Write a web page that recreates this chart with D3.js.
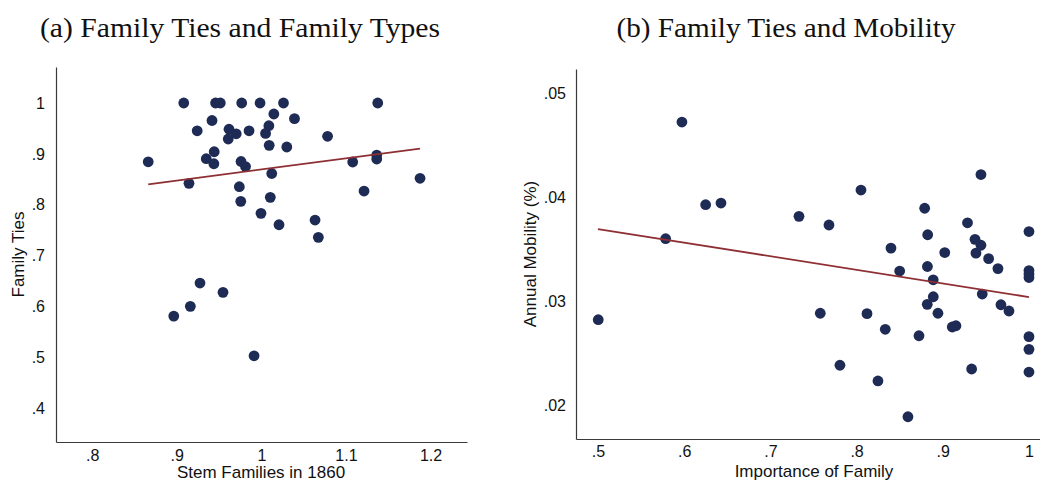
<!DOCTYPE html>
<html>
<head>
<meta charset="utf-8">
<script src="https://cdn.jsdelivr.net/npm/d3@7"></script>
<style>
  html, body { margin: 0; padding: 0; background: #fff; }
  svg { display: block; }
</style>
</head>
<body>
<svg id="chart" width="1040" height="482"></svg>
<script>
// Panel (a): stem families in 1860 vs. family ties
const stemFamilies = [
  0.9083, 0.9459, 0.9515, 0.9768, 0.9985, 1.0262, 1.1376, 1.0148, 1.0392, 0.9417,
  0.9242, 0.9618, 0.9703, 0.9855, 1.0089, 1.0050, 0.9609, 1.0783, 1.0093, 1.0301,
  0.9443, 0.8663, 0.9349, 0.9439, 0.9760, 0.9813, 1.1080, 1.1364, 1.1364, 1.0123,
  0.9145, 1.1876, 0.9740, 1.1214, 0.9757, 1.0106, 0.9996, 1.0635, 1.0209, 1.0674,
  0.9275, 0.9547, 0.9161, 0.8965, 0.9914
];
const familyTiesA = [
  1.0, 1.0, 1.0, 1.0, 1.0, 1.0, 1.0, 0.9784, 0.9692, 0.9656,
  0.9454, 0.9485, 0.9395, 0.9454, 0.9554, 0.9403, 0.9293, 0.9346, 0.9169, 0.9136,
  0.9043, 0.8845, 0.8906, 0.8807, 0.8851, 0.8752, 0.8841, 0.8978, 0.8900, 0.8615,
  0.8422, 0.8521, 0.8356, 0.8271, 0.8069, 0.8147, 0.7833, 0.7701, 0.7609, 0.7362,
  0.6464, 0.6281, 0.6006, 0.5815, 0.5035
];
// Linear fit of panel (a), evaluated at the data range ends
const fitAX = [0.8663, 1.1876];
const fitAY = [0.8403, 0.9102];
const ticksAX = [0.8, 0.9, 1.0, 1.1, 1.2];
const ticksAY = [0.4, 0.5, 0.6, 0.7, 0.8, 0.9, 1.0];

// Panel (b): importance of family vs. annual mobility
const importance = [
  0.5003, 0.5785, 0.5974, 0.6249, 0.6427, 0.7332, 0.7680, 0.8051, 0.7579, 0.8121,
  0.8333, 0.7807, 0.8248, 0.8596, 0.8724, 0.8500, 0.8399, 0.8790, 0.8825, 0.8822,
  0.8889, 0.8890, 0.8820, 0.8944, 0.9023, 0.9110, 0.9153, 0.9287, 0.9374, 0.9443,
  0.9385, 0.9443, 0.9335, 0.9458, 0.9532, 0.9640, 0.9675, 0.9768, 1.0, 1.0,
  1.0, 1.0, 1.0, 1.0, 1.0
];
const mobility = [
  0.02825, 0.03604, 0.04726, 0.03931, 0.03947, 0.03819, 0.03736, 0.04072, 0.02887, 0.02883,
  0.02733, 0.02387, 0.02236, 0.01892, 0.02671, 0.03293, 0.03514, 0.03897, 0.03642, 0.03337,
  0.03209, 0.03046, 0.02973, 0.02887, 0.03471, 0.02755, 0.02767, 0.03757, 0.03598, 0.03541,
  0.03466, 0.04221, 0.02351, 0.03072, 0.03412, 0.03317, 0.02969, 0.02909, 0.03673, 0.03298,
  0.03264, 0.03231, 0.02662, 0.02540, 0.02322
];
// Linear fit of panel (b), evaluated at the data range ends
const fitBX = [0.5, 1.0];
const fitBY = [0.03697, 0.03043];
const ticksBX = [0.5, 0.6, 0.7, 0.8, 0.9, 1.0];
const ticksBY = [0.02, 0.03, 0.04, 0.05];

const svg = d3.select("#chart");
const dotColor = "#1e2b55";
const fitColor = "#8e2f33";
const axisColor = "#3a3a3a";
const tickFont = "'Liberation Sans', Arial, sans-serif";
const titleFont = "'Liberation Serif', 'Times New Roman', serif";

// ".9" style labels: drop the leading zero
const fmtDot = v => {
  const s = d3.format("~g")(+v.toFixed(3));
  return s.startsWith("0.") ? s.slice(1) : s;
};

function drawPanel(cfg) {
  const g = svg.append("g");
  const x = d3.scaleLinear().domain(cfg.xDomain).range(cfg.xRange);
  const y = d3.scaleLinear().domain(cfg.yDomain).range(cfg.yRange);

  const xAxis = g.append("g")
    .attr("transform", `translate(0,${cfg.yRange[0]})`)
    .call(d3.axisBottom(x).tickValues(cfg.xTicks).tickSize(0).tickPadding(cfg.xPad).tickFormat(fmtDot));
  const yAxis = g.append("g")
    .attr("transform", `translate(${cfg.xRange[0]},0)`)
    .call(d3.axisLeft(y).tickValues(cfg.yTicks).tickSize(0).tickPadding(cfg.yPad).tickFormat(fmtDot));

  [xAxis, yAxis].forEach(a => {
    a.select(".domain").attr("stroke", axisColor).attr("stroke-width", 1.2);
    a.selectAll("text").attr("font-family", tickFont).attr("font-size", 16).attr("fill", "#111");
  });

  // points
  g.append("g").selectAll("circle")
    .data(cfg.xs.map((v, i) => [v, cfg.ys[i]]))
    .join("circle")
    .attr("cx", d => x(d[0]))
    .attr("cy", d => y(d[1]))
    .attr("r", 5.4)
    .attr("fill", dotColor);

  // fitted line
  g.append("path")
    .datum(cfg.fitX.map((v, i) => [v, cfg.fitY[i]]))
    .attr("d", d3.line().x(d => x(d[0])).y(d => y(d[1])))
    .attr("fill", "none")
    .attr("stroke", fitColor)
    .attr("stroke-width", 1.8);

  // axis titles
  g.append("text")
    .attr("x", cfg.xTitleX)
    .attr("y", cfg.xTitleY)
    .attr("text-anchor", "middle")
    .attr("font-family", tickFont).attr("font-size", 17).attr("fill", "#111")
    .text(cfg.xTitle);
  g.append("text")
    .attr("transform", `translate(${cfg.yTitleX},${(cfg.yRange[0] + cfg.yRange[1]) / 2}) rotate(-90)`)
    .attr("text-anchor", "middle")
    .attr("font-family", tickFont).attr("font-size", 17).attr("fill", "#111")
    .text(cfg.yTitle);

  // panel heading
  g.append("text")
    .attr("x", cfg.headX)
    .attr("y", 37)
    .attr("text-anchor", "middle")
    .attr("font-family", titleFont).attr("font-size", 27).attr("fill", "#111")
    .attr("textLength", cfg.headLen).attr("lengthAdjust", "spacingAndGlyphs")
    .text(cfg.head);
}

drawPanel({
  xs: stemFamilies, ys: familyTiesA, fitX: fitAX, fitY: fitAY,
  xDomain: [0.7573, 1.2431], xRange: [56, 467],
  yDomain: [0.3342, 1.0707], yRange: [442, 67],
  xTicks: ticksAX, yTicks: ticksAY, xPad: 8, yPad: 11,
  xTitle: "Stem Families in 1860", xTitleX: 261, xTitleY: 478,
  yTitle: "Family Ties", yTitleX: 24,
  head: "(a) Family Ties and Family Types", headX: 240, headLen: 400
});

drawPanel({
  xs: importance, ys: mobility, fitX: fitBX, fitY: fitBY,
  xDomain: [0.4745, 1.0128], xRange: [576, 1040],
  yDomain: [0.01678, 0.05236], yRange: [439, 69],
  xTicks: ticksBX, yTicks: ticksBY, xPad: 7, yPad: 10,
  xTitle: "Importance of Family", xTitleX: 814, xTitleY: 477,
  yTitle: "Annual Mobility (%)", yTitleX: 536,
  head: "(b) Family Ties and Mobility", headX: 786, headLen: 339
});
</script>
</body>
</html>
